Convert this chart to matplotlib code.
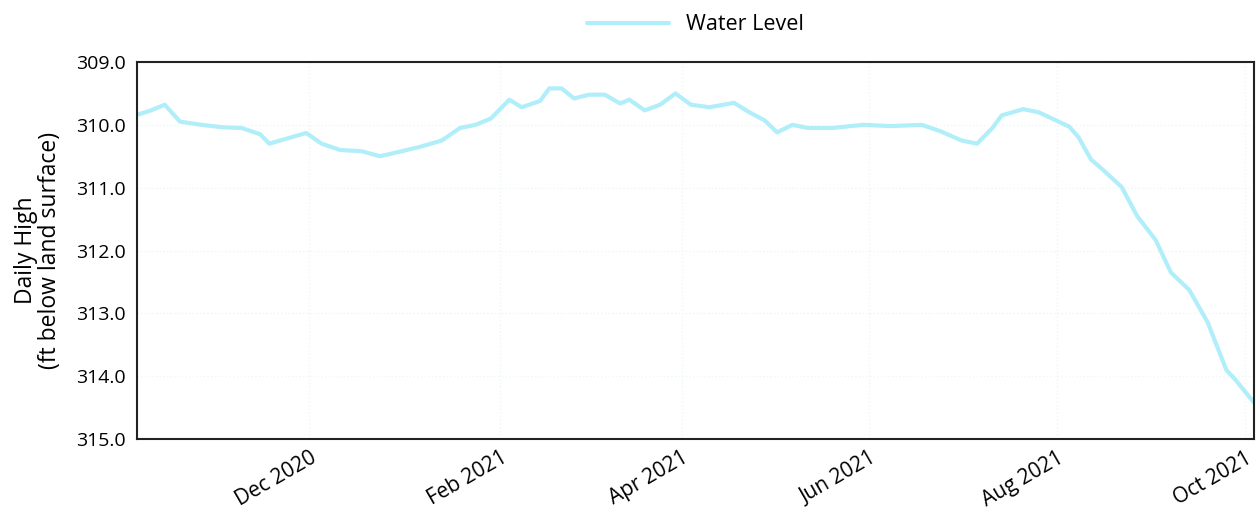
import matplotlib
matplotlib.use("Agg")
import matplotlib.pyplot as plt
import pandas as pd

dates = ["2020-10-06", "2020-10-10", "2020-10-15", "2020-10-20", "2020-10-27", "2020-11-03",
         "2020-11-09", "2020-11-15", "2020-11-18", "2020-11-25", "2020-11-30", "2020-12-05",
         "2020-12-11", "2020-12-18", "2020-12-24", "2020-12-31", "2021-01-06", "2021-01-13",
         "2021-01-19", "2021-01-24", "2021-01-29", "2021-02-01", "2021-02-04", "2021-02-08",
         "2021-02-14", "2021-02-17", "2021-02-21", "2021-02-25", "2021-03-02", "2021-03-07",
         "2021-03-12", "2021-03-15", "2021-03-20", "2021-03-25", "2021-03-30", "2021-04-04",
         "2021-04-10", "2021-04-18", "2021-04-23", "2021-04-28", "2021-05-02", "2021-05-07",
         "2021-05-12", "2021-05-20", "2021-05-30", "2021-06-08", "2021-06-18", "2021-06-24",
         "2021-07-01", "2021-07-06", "2021-07-11", "2021-07-14", "2021-07-21", "2021-07-26",
         "2021-08-05", "2021-08-08", "2021-08-12", "2021-08-16", "2021-08-22", "2021-08-27",
         "2021-09-02", "2021-09-07", "2021-09-13", "2021-09-19", "2021-09-25", "2021-09-28",
         "2021-10-04"]
levels = [309.84, 309.78, 309.68, 309.95, 310.0, 310.04,
          310.05, 310.15, 310.3, 310.2, 310.13, 310.3,
          310.4, 310.42, 310.5, 310.42, 310.35, 310.25,
          310.05, 310.0, 309.9, 309.75, 309.6, 309.72,
          309.62, 309.42, 309.42, 309.58, 309.52, 309.52,
          309.66, 309.6, 309.77, 309.68, 309.5, 309.68,
          309.72, 309.65, 309.8, 309.93, 310.12, 310.0,
          310.05, 310.05, 310.0, 310.02, 310.0, 310.1,
          310.25, 310.3, 310.05, 309.85, 309.75, 309.8,
          310.03, 310.2, 310.55, 310.72, 310.99, 311.45,
          311.83, 312.35, 312.63, 313.15, 313.9, 314.06,
          314.42]
y_ticks = [309.0, 310.0, 311.0, 312.0, 313.0, 314.0, 315.0]
x_ticks = ["2020-12-01", "2021-02-01", "2021-04-01", "2021-06-01", "2021-08-01", "2021-10-01"]
x_labels = ["Dec 2020", "Feb 2021", "Apr 2021", "Jun 2021", "Aug 2021", "Oct 2021"]

plt.rcParams['font.family'] = ['Open Sans', 'DejaVu Sans']
fig = plt.figure(figsize=(12.56, 5.18), dpi=100)
ax = fig.add_axes([137/1256, 1 - 439/518, (1254-137)/1256, (439-62)/518])

d = pd.to_datetime(dates)
ax.plot(d, levels, color='#b0eefa', lw=3.0, label='Water Level', solid_capstyle='round')

ax.set_xlim(pd.Timestamp("2020-10-06"), pd.Timestamp("2021-10-04"))
ax.set_ylim(315.0, 309.0)
ax.set_yticks(y_ticks)
ax.set_yticklabels([f"{v:.1f}" for v in y_ticks], fontsize=14)
ax.set_xticks(pd.to_datetime(x_ticks))
ax.set_xticklabels(x_labels, rotation=30, ha='right', rotation_mode='anchor', fontsize=15)
ax.tick_params(axis='y', length=0, pad=8)
ax.tick_params(axis='x', length=0, pad=6)
ax.grid(True, color='#eef6f8', linestyle=':', lw=1)
for s in ax.spines.values():
    s.set_linewidth(1.5)
    s.set_color('#222222')

ax.set_ylabel("Daily High\n(ft below land surface)", fontsize=16.5, labelpad=10, linespacing=1.0)
ax.legend(loc='lower center', bbox_to_anchor=(0.5, 1.0), frameon=False, fontsize=15.5,
          handlelength=3.8, borderaxespad=0.85)

fig.savefig("out.png", dpi=100)
